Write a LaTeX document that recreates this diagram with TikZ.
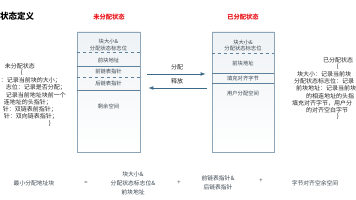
\documentclass[tikz,border=0pt]{standalone}
\usepackage{fontspec}
\setmainfont{Noto Sans CJK SC}
\usetikzlibrary{positioning}

\definecolor{boxline}{HTML}{8CA5B8}
\definecolor{sepline}{HTML}{5F819B}
\definecolor{flowblue}{HTML}{3E6A89}
\definecolor{boxtext}{HTML}{3A4650}
\definecolor{statered}{HTML}{E8141B}

\tikzset{
  membox/.style={draw=boxline, line width=0.8pt, top color=boxline!14, bottom color=white,
    minimum height=120pt, inner sep=0pt},
  rowtext/.style={text=boxtext, align=center, inner sep=0pt, font=\fontsize{5.3}{6.6}\selectfont},
  sidetext/.style={text=black!85, inner sep=0pt, font=\fontsize{6}{7}\selectfont},
  bottext/.style={text=boxtext, align=center, inner sep=0pt, font=\fontsize{5.8}{9}\selectfont},
  statelabel/.style={text=statered, inner sep=0pt, font=\bfseries\fontsize{6.3}{7}\selectfont},
  flow/.style={flowblue, line width=0.7pt, -latex},
}

\begin{document}
\begin{tikzpicture}[x=1pt, y=-1pt]
  \useasboundingbox (0,0) rectangle (356,200);

  \node[anchor=west, inner sep=0pt, font=\bfseries\fontsize{8.5}{10}\selectfont] (title) at (0,16) {状态定义};
  \node[statelabel] (freetitle) at (109,17) {未分配状态};
  \node[statelabel] (usedtitle) at (243,17) {已分配状态};

  % free block
  \node[membox, minimum width=63pt] (freebox) at (108.5,92) {};
  \foreach \y/\s in {52/dashed, 66/solid, 77/dashed, 90/solid}
    \draw[sepline, line width=0.6pt, \s] (freebox.west |- 0,\y) -- (freebox.east |- 0,\y);
  \node[rowtext] (freehdr) at (108.5,45) {块大小\&\\分配状态标志位};
  \node[rowtext] (freeprev) at (108.5,60) {前块地址};
  \node[rowtext] (freefwd) at (108.5,71.5) {前链表指针};
  \node[rowtext] (freebwd) at (108.5,83) {后链表指针};
  \node[rowtext] (freerest) at (108.5,106) {剩余空间};

  % used block
  \node[membox, minimum width=62pt] (usedbox) at (243,92) {};
  \foreach \y/\s in {53/dashed, 73/solid, 83/solid}
    \draw[sepline, line width=0.6pt, \s] (usedbox.west |- 0,\y) -- (usedbox.east |- 0,\y);
  \node[rowtext] (usedhdr) at (243,45.5) {块大小\&\\分配状态标志位};
  \node[rowtext] (usedprev) at (243,63) {前块地址};
  \node[rowtext] (usedpad) at (243,78) {填充对齐字节};
  \node[rowtext] (useruse) at (243,93) {用户分配空间};

  % alloc / free arrows
  \node[sidetext] (alloc) at (177,67) {分配};
  \node[sidetext] (release) at (177,81.5) {释放};
  \draw[flow, shorten <=7pt, shorten >=6pt] (freebox.east |- 0,74) -- (usedbox.west |- 0,74);
  \draw[flow, shorten <=5pt, shorten >=8pt] (usedbox.west |- 0,88) -- (freebox.east |- 0,88);

  % left notes
  \node[sidetext] (freenote) at (20,66) {未分配状态};
  \node[sidetext] (freeopen) at (22,73) {\{};
  \foreach \xe/\txt [count=\i] in {61/{：记录当前块的大小；}, 66/{志位：记录是否分配；},
      66/{记录当前地址块前一个}, 52/{连地址的头指针；}, 57/{针：双链表前指针；}, 58/{针：双向链表指针；}}
    \node[sidetext, anchor=east] (freeline\i) at (\xe,73+7.3*\i) {\txt};
  \node[sidetext] (freeclose) at (50,124) {\}};

  % right notes
  \node[sidetext] (usednote) at (338,60) {已分配状态};
  \node[sidetext] (usedopen) at (338,67) {\{};
  \foreach \xs/\txt [count=\i] in {297/{块大小：记录当前块}, 294/{分配状态标志位：记录},
      296/{前块地址：记录当前块}, 306/{的相连地址的头指}, 292/{填充对齐字节，用户分}, 306/{的对齐空白字节}}
    \node[sidetext, anchor=west] (usedline\i) at (\xs,67+7.2*\i) {\txt};
  \node[sidetext] (usedclose) at (338,117) {\}};

  % bottom equation
  \node[bottext] (minblock) at (34,183) {最小分配地址块};
  \node[bottext] (eq) at (86,183) {=};
  \node[bottext] (hdrpart) at (133,183) {块大小\&\\分配状态标志位\&\\前块地址};
  \node[bottext] (plus1) at (179,183) {+};
  \node[bottext] (ptrpart) at (218,182.5) {前链表指针\&\\后链表指针};
  \node[bottext] (plus2) at (261,181) {+};
  \node[bottext] (padpart) at (315,183) {字节对齐空余空间};
\end{tikzpicture}
\end{document}
